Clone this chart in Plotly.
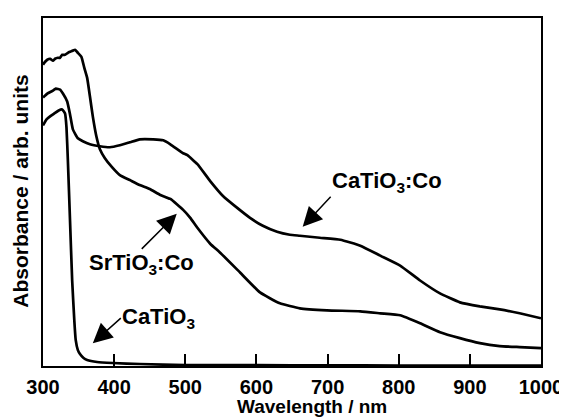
import plotly.graph_objects as go

# Wavelength (nm) and absorbance (arb. units)
wl_sr = [300, 303, 306, 310, 314, 317, 321, 324, 327, 331, 335, 338, 345, 349, 354, 358,
         362, 366, 370, 375, 380, 387, 397, 408, 422, 436, 450, 465, 479, 497, 507, 517,
         535, 549, 577, 605, 633, 661, 699, 746, 774, 802, 830, 858, 886, 914, 942, 970, 1000]
ab_sr = [303, 306, 308, 309, 307, 309, 310, 310, 313, 313, 315, 316, 318, 315, 311, 300,
         290, 271, 251, 231, 218, 209, 200, 192, 187, 182, 178, 172, 168, 157, 149, 139,
         123, 114, 94, 74, 63, 58, 56, 55, 53, 51, 43, 34, 28, 23, 20, 19, 18]

wl_cco = [300, 306, 314, 318, 324, 328, 334, 338, 342, 349, 356, 366, 380, 394, 408, 422,
          436, 455, 469, 479, 497, 503, 517, 535, 553, 573, 591, 609, 629, 647, 661, 689,
          718, 746, 774, 802, 830, 858, 886, 914, 942, 970, 1000]
ab_cco = [270, 274, 277, 279, 278, 274, 266, 253, 238, 229, 226, 223, 221, 220, 222, 225,
          228, 228, 227, 223, 214, 212, 203, 186, 171, 159, 149, 141, 135, 132, 131, 129,
          127, 121, 111, 101, 86, 73, 64, 60, 57, 53, 48]

wl_ca = [300, 305, 310, 316, 322, 327, 331, 333, 335, 338, 341, 344, 346, 349, 352, 357,
         362, 376, 398, 436, 500, 600, 700, 800, 900, 1000]
ab_ca = [242, 248, 251, 254, 257, 258, 254, 240, 206, 146, 86, 46, 26, 16, 12, 8,
         6, 4, 3, 2, 1, 0.8, 0.6, 0.5, 0.5, 0.5]

x_ticks = [300, 400, 500, 600, 700, 800, 900, 1000]

# labels: text, arrow-head position (nm, abs), tail offset (px), anchors
labels = [
    ("CaTiO<sub>3</sub>:Co", 665, 140, 28, -30, "left", "bottom"),
    ("SrTiO<sub>3</sub>:Co", 488, 153, -35, 35, "center", "top"),
    ("CaTiO<sub>3</sub>", 370, 23, 28, -25, "left", "middle"),
]

FONT = "Arial, Liberation Sans, sans-serif"
line_style = dict(color="black", width=2.7, shape="spline", smoothing=0.4)

fig = go.Figure()
for wl, ab in [(wl_sr, ab_sr), (wl_cco, ab_cco), (wl_ca, ab_ca)]:
    fig.add_trace(go.Scatter(x=wl, y=ab, mode="lines", line=line_style,
                             showlegend=False, hoverinfo="skip"))

# page body adds an 8px offset, so margins are shifted accordingly
fig.update_layout(
    width=567, height=417,
    margin=dict(l=35, r=34, t=8, b=59),
    plot_bgcolor="white", paper_bgcolor="white",
    font=dict(family=FONT, color="black"),
    xaxis=dict(range=[300, 1000], tickvals=x_ticks, ticks="inside", ticklen=12,
               tickwidth=2, tickcolor="black", showgrid=False, zeroline=False,
               showline=True, linewidth=2, linecolor="black", mirror=True,
               ticklabelstandoff=2,
               tickfont=dict(size=20, family=FONT, color="black", weight="bold")),
    yaxis=dict(range=[0, 350], showticklabels=False, ticks="", showgrid=False,
               zeroline=False, showline=True, linewidth=2, linecolor="black", mirror=True),
)

bold = dict(family=FONT, size=22, color="black", weight="bold")
for text, hx, hy, ax, ay, xa, ya in labels:
    fig.add_annotation(x=hx, y=hy, ax=ax, ay=ay, xref="x", yref="y", text=text,
                       showarrow=True, arrowhead=2, arrowsize=2.6, arrowwidth=1.5,
                       arrowcolor="black", font=bold, xanchor=xa, yanchor=ya,
                       borderpad=0)

fig.add_annotation(x=0.54, y=-0.117, xref="paper", yref="paper", text="Wavelength / nm",
                   showarrow=False, borderpad=0,
                   font=dict(family=FONT, size=19, color="black", weight="bold"),
                   xanchor="center", yanchor="middle")
fig.add_annotation(x=-0.044, y=0.501, xref="paper", yref="paper",
                   text="Absorbance / arb. units", showarrow=False, textangle=-90,
                   font=dict(family=FONT, size=21, color="black", weight="bold"),
                   xanchor="center", yanchor="middle")

fig.write_html("out.html", config={"displayModeBar": False})
